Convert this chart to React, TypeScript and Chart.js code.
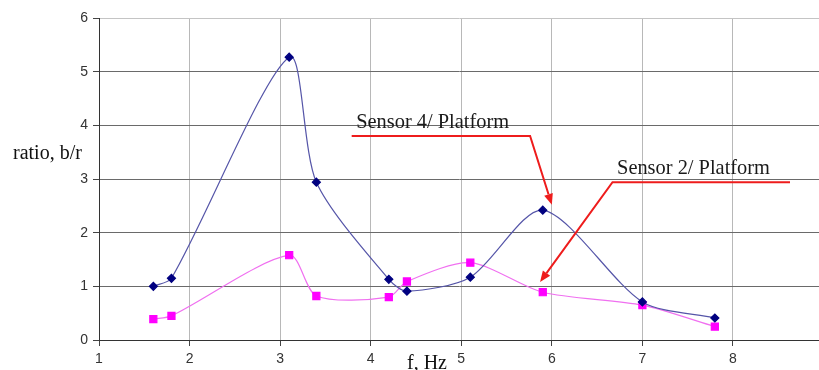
import React, { useEffect, useRef } from "react";
import { Chart, registerables } from "chart.js";

Chart.register(...registerables);

const xTicks = [1, 2, 3, 4, 5, 6, 7, 8];
const yTicks = [0, 1, 2, 3, 4, 5, 6];

const sensor4X = [1.6, 1.8, 3.1, 3.4, 4.2, 4.4, 5.1, 5.9, 7.0, 7.8];
const sensor4Y = [1.0, 1.15, 5.27, 2.94, 1.13, 0.91, 1.17, 2.42, 0.71, 0.41];

const sensor2X = [1.6, 1.8, 3.1, 3.4, 4.2, 4.4, 5.1, 5.9, 7.0, 7.8];
const sensor2Y = [0.39, 0.45, 1.58, 0.82, 0.8, 1.09, 1.44, 0.89, 0.65, 0.25];

const yAxisLabel = "ratio, b/r";
const xAxisLabel = "f, Hz";

const annotations = [
  {
    text: "Sensor 4/ Platform",
    textAt: [3.84, 3.95],
    path: [
      [3.79, 3.8],
      [5.76, 3.8],
      [6.0, 2.52],
    ],
  },
  {
    text: "Sensor 2/ Platform",
    textAt: [6.72, 3.09],
    path: [
      [8.63, 2.94],
      [6.67, 2.94],
      [5.87, 1.08],
    ],
  },
];

// stretch the plot area to the right edge of the canvas
const stretchPlugin = {
  id: "stretch",
  afterLayout(chart: any) {
    const xs = chart.scales.x;
    const right = chart.width;
    xs.right = right;
    xs.width = right - xs.left;
    xs.configure();
    chart.chartArea.right = right;
    chart.chartArea.width = right - chart.chartArea.left;
  },
};

const annotationPlugin = {
  id: "annot",
  afterDatasetsDraw(chart: any) {
    const ctx = chart.ctx;
    const xs = chart.scales.x;
    const ys = chart.scales.y;
    ctx.save();
    for (const a of annotations) {
      const tx = xs.getPixelForValue(a.textAt[0]);
      const ty = ys.getPixelForValue(a.textAt[1]);
      ctx.font = '20.4px "Liberation Serif", "Times New Roman", serif';
      ctx.fillStyle = "#1a1a1a";
      ctx.textBaseline = "alphabetic";
      ctx.textAlign = "left";
      ctx.fillText(a.text, tx, ty);

      const pts = a.path.map((p) => [xs.getPixelForValue(p[0]), ys.getPixelForValue(p[1])]);
      ctx.strokeStyle = "#ee1c1c";
      ctx.lineWidth = 2;
      ctx.beginPath();
      ctx.moveTo(pts[0][0], pts[0][1]);
      for (let i = 1; i < pts.length - 1; i++) ctx.lineTo(pts[i][0], pts[i][1]);
      const n = pts.length;
      const [x1, y1] = pts[n - 2];
      const [x2, y2] = pts[n - 1];
      const ang = Math.atan2(y2 - y1, x2 - x1);
      const L = 11;
      const bx = x2 - L * Math.cos(ang);
      const by = y2 - L * Math.sin(ang);
      ctx.lineTo(bx, by);
      ctx.stroke();
      ctx.fillStyle = "#ee1c1c";
      ctx.beginPath();
      ctx.moveTo(x2, y2);
      ctx.lineTo(bx + 4.5 * Math.sin(ang), by - 4.5 * Math.cos(ang));
      ctx.lineTo(bx - 4.5 * Math.sin(ang), by + 4.5 * Math.cos(ang));
      ctx.closePath();
      ctx.fill();
    }
    ctx.fillStyle = "#111111";
    ctx.font = '20px "Liberation Serif", "Times New Roman", serif';
    ctx.textAlign = "left";
    ctx.textBaseline = "alphabetic";
    ctx.fillText(yAxisLabel, 13, 159);
    ctx.fillText(xAxisLabel, 407, 369);
    ctx.restore();
  },
};

export default function App() {
  const ref = useRef<HTMLCanvasElement | null>(null);
  useEffect(() => {
    if (!ref.current) return;
    const chart = new Chart(ref.current, {
      type: "line",
      data: {
        datasets: [
          {
            label: "Sensor 4/ Platform",
            data: sensor4X.map((x, i) => ({ x, y: sensor4Y[i] })),
            borderColor: "#5555a8",
            borderWidth: 1.2,
            backgroundColor: "#000080",
            pointBackgroundColor: "#000080",
            pointBorderColor: "#000080",
            pointStyle: "rectRot",
            pointRadius: 4,
            tension: 0.27,
            fill: false,
          },
          {
            label: "Sensor 2/ Platform",
            data: sensor2X.map((x, i) => ({ x, y: sensor2Y[i] })),
            borderColor: "#f070f0",
            borderWidth: 1.2,
            backgroundColor: "#ff00ff",
            pointBackgroundColor: "#ff00ff",
            pointBorderColor: "#ff00ff",
            pointStyle: "rect",
            pointRadius: 5,
            tension: 0.27,
            fill: false,
          },
        ],
      },
      options: {
        animation: false,
        responsive: false,
        maintainAspectRatio: false,
        layout: { padding: { top: 18, right: 0, left: 0, bottom: 0 } },
        plugins: { legend: { display: false }, tooltip: { enabled: false } },
        scales: {
          x: {
            type: "linear",
            min: 1,
            max: 8.95,
            afterBuildTicks: (s: any) => {
              s.ticks = xTicks.map((v) => ({ value: v }));
            },
            afterFit: (s: any) => {
              s.height = 30;
            },
            grid: {
              color: "#b8b8b8",
              lineWidth: 1,
              tickColor: "#444444",
              tickLength: 6,
              drawTicks: true,
            },
            border: { color: "#333333", width: 1 },
            ticks: {
              color: "#333333",
              font: { family: '"Liberation Sans", Arial, sans-serif', size: 14 },
              padding: 5,
              maxRotation: 0,
            },
          },
          y: {
            type: "linear",
            min: 0,
            max: 6,
            afterBuildTicks: (s: any) => {
              s.ticks = yTicks.map((v) => ({ value: v }));
            },
            afterFit: (s: any) => {
              s.width = 99;
            },
            grid: {
              color: (c: any) => (c.tick && c.tick.value === 6 ? "#c4c4c4" : "#6a6a6a"),
              lineWidth: 1,
              tickColor: "#444444",
              tickLength: 6,
            },
            border: { color: "#333333", width: 1 },
            ticks: {
              color: "#333333",
              font: { family: '"Liberation Sans", Arial, sans-serif', size: 14 },
              padding: 5,
            },
          },
        },
      },
      plugins: [stretchPlugin, annotationPlugin],
    } as any);
    return () => chart.destroy();
  }, []);
  return (
    <div style={{ position: "absolute", left: 0, top: 0, width: 819, height: 370, background: "#fff" }}>
      <canvas ref={ref} width={819} height={370} style={{ width: 819, height: 370, display: "block" }} />
    </div>
  );
}
